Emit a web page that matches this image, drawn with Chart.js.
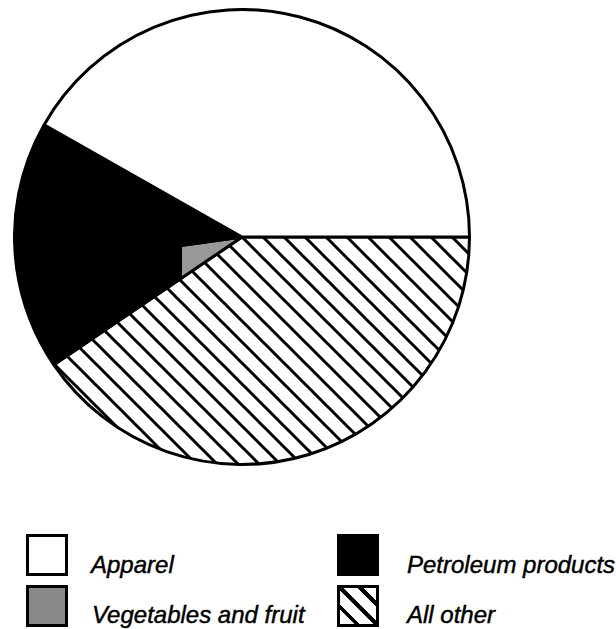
<!DOCTYPE html>
<html>
<head>
<meta charset="utf-8">
<script src="https://cdn.jsdelivr.net/npm/chart.js@4/dist/chart.umd.min.js"></script>
<style>
  body { margin: 0; background: #fff; width: 616px; height: 629px; position: relative; overflow: hidden; font-family: 'Liberation Sans', Arial, sans-serif; }
  #pieWrap { position: absolute; left: 13px; top: 8px; width: 458px; height: 458px; }
  .key { position: absolute; width: 42px; height: 42px; box-sizing: border-box; border: 3px solid #000; }
  .label { position: absolute; font-size: 24px; line-height: 24px; font-style: italic; white-space: nowrap; color: #000; -webkit-text-stroke: 0.45px #000; }
</style>
</head>
<body>
<div id="pieWrap"><canvas id="pie" width="458" height="458"></canvas></div>
<div id="legend"></div>
<script>
// slices, clockwise from 3 o'clock
const categories = ['All other', 'Vegetables and fruit', 'Petroleum products', 'Apparel']
const shares = [40.5, 7.3, 10.4, 41.8]
// legend reads row by row
const legendOrder = ['Apparel', 'Petroleum products', 'Vegetables and fruit', 'All other']

// diagonal hatch used for "All other"
const makeHatch = (size, width) => {
  const c = document.createElement('canvas')
  c.width = size
  c.height = size
  const g = c.getContext('2d')
  g.fillStyle = '#fff'
  g.fillRect(0, 0, size, size)
  g.strokeStyle = '#000'
  g.lineWidth = width
  for (let k = -1; k <= 1; k++) {
    g.beginPath()
    g.moveTo(-size, -size + k * size)
    g.lineTo(2 * size, 2 * size + k * size)
    g.stroke()
  }
  return g.createPattern(c, 'repeat')
}

const pieCtx = document.getElementById('pie').getContext('2d')
const hatch = makeHatch(21, 3)

// the scan shows the veg slice gray only near the centre, black further out
const vegFill = (context) => {
  const area = context.chart.chartArea
  if (!area) return '#000'
  const cx = (area.left + area.right) / 2
  const grad = context.chart.ctx.createLinearGradient(cx - 62, 0, cx - 58, 0)
  grad.addColorStop(0, '#000')
  grad.addColorStop(0.5, '#000')
  grad.addColorStop(0.5, '#999')
  grad.addColorStop(1, '#999')
  return grad
}

const fills = {
  'All other': hatch,
  'Vegetables and fruit': vegFill,
  'Petroleum products': '#000',
  'Apparel': '#fff'
}

new Chart(pieCtx, {
  type: 'pie',
  data: {
    labels: categories,
    datasets: [{
      data: shares,
      backgroundColor: (context) => {
        const f = fills[categories[context.dataIndex]]
        return typeof f === 'function' ? f(context) : f
      },
      borderColor: '#000',
      borderWidth: 3
    }]
  },
  options: {
    responsive: false,
    animation: false,
    rotation: 90,
    layout: { padding: 0 },
    plugins: {
      legend: { display: false },
      tooltip: { enabled: false }
    }
  }
})

// legend, 2 x 2 grid
const legendPos = [
  { box: [26, 534], text: [91, 553] },
  { box: [337, 534], text: [407, 553] },
  { box: [26, 585], text: [92, 603] },
  { box: [337, 585], text: [407, 603] }
]
const swatchCss = {
  'Apparel': 'background:#fff',
  'Petroleum products': 'background:#000',
  'Vegetables and fruit': 'background:#888',
  'All other': 'background:repeating-linear-gradient(45deg, #fff 0 10px, #000 10px 14px)'
}
const legend = document.getElementById('legend')
legendOrder.forEach((name, i) => {
  const p = legendPos[i]
  const box = document.createElement('div')
  box.className = 'key'
  box.style.cssText = `left:${p.box[0]}px;top:${p.box[1]}px;${swatchCss[name]}`
  legend.appendChild(box)
  const label = document.createElement('div')
  label.className = 'label'
  label.style.left = p.text[0] + 'px'
  label.style.top = p.text[1] + 'px'
  label.textContent = name
  legend.appendChild(label)
})
</script>
</body>
</html>
